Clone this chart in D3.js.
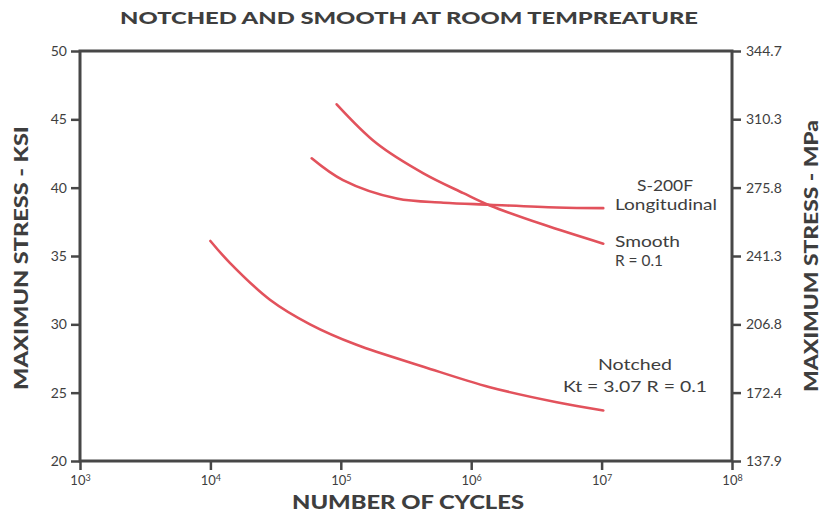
<!DOCTYPE html>
<html>
<head>
<meta charset="utf-8">
<script src="https://cdn.jsdelivr.net/npm/d3@7"></script>
<style>
  html, body { margin: 0; padding: 0; background: #fff; }
  svg { display: block; }
  text { font-family: Lato, "Open Sans", sans-serif; }
</style>
</head>
<body>
<svg id="chart" width="822" height="516"></svg>
<script>
// ---- data (cycles, max stress in ksi) ----
const notchedCycles = [10000, 14100, 28600, 58100, 132000, 430000, 1390000, 4530000, 10300000];
const notchedStress = [36.1, 34.5, 31.8, 30.0, 28.5, 26.9, 25.4, 24.3, 23.7];

const smoothCycles = [93000, 188000, 430000, 871000, 1390000, 3570000, 10300000];
const smoothStress = [46.1, 43.25, 41.05, 39.6, 38.7, 37.3, 35.9];

const longCycles = [59800, 104000, 269000, 611000, 1390000, 4530000, 10300000];
const longStress = [42.15, 40.55, 39.2, 38.9, 38.75, 38.55, 38.5];

const ksiTicks = [20, 25, 30, 35, 40, 45, 50];
const mpaTicks = [137.9, 172.4, 206.8, 241.3, 275.8, 310.3, 344.7];
const cycleTicks = [1e3, 1e4, 1e5, 1e6, 1e7, 1e8];
const cycleExp = ["3", "4", "5", "6", "7", "8"];

const title = "NOTCHED AND SMOOTH AT ROOM TEMPREATURE";
const xLabel = "NUMBER OF CYCLES";
const yLabelLeft = "MAXIMUN STRESS - KSI";
const yLabelRight = "MAXIMUM STRESS - MPa";

// ---- layout ----
const svg = d3.select("#chart");
const margin = { left: 80, right: 90, top: 51, bottom: 55 };
const W = 822, H = 516;
const x0 = margin.left, x1 = W - margin.right, y0 = margin.top, y1 = H - margin.bottom;

const x = d3.scaleLog().domain([1e3, 1e8]).range([x0, x1]);
const y = d3.scaleLinear().domain([20, 50]).range([y1, y0]);
const yR = d3.scaleLinear().domain([137.9, 344.7]).range([y1, y0]);

const axisColor = "#474747";
const textColor = "#3e3e3e";
const lineColor = "#e2525c";

// frame
svg.append("rect")
  .attr("x", x0).attr("y", y0)
  .attr("width", x1 - x0).attr("height", y1 - y0)
  .attr("fill", "none").attr("stroke", axisColor).attr("stroke-width", 3);

function styleAxis(g) {
  g.select(".domain").remove();
  g.selectAll(".tick line").attr("stroke", axisColor).attr("stroke-width", 2.5);
  g.selectAll(".tick text").attr("fill", textColor)
    .style("font-family", "Lato, sans-serif").style("font-size", "14px");
}

// left axis
svg.append("g").attr("transform", `translate(${x0},0)`)
  .call(d3.axisLeft(y).tickValues(ksiTicks).tickSize(9).tickPadding(4).tickFormat(d3.format("d")))
  .call(styleAxis);

// right axis
svg.append("g").attr("transform", `translate(${x1},0)`)
  .call(d3.axisRight(yR).tickValues(mpaTicks).tickSize(9).tickPadding(5).tickFormat(d3.format(".1f")))
  .call(styleAxis);

// bottom axis
const gx = svg.append("g").attr("transform", `translate(0,${y1})`)
  .call(d3.axisBottom(x).tickValues(cycleTicks).tickSize(9).tickPadding(4).tickFormat(() => ""))
  .call(styleAxis);
gx.selectAll(".tick").each(function(d, i) {
  const t = d3.select(this).select("text");
  t.text(null).attr("dy", "0.85em").style("font-size", "13px");
  t.append("tspan").text("10");
  t.append("tspan").text(cycleExp[i]).attr("dy", "-0.45em").style("font-size", "9px");
});

// curves
const line = d3.line()
  .x(d => x(d[0]))
  .y(d => y(d[1]))
  .curve(d3.curveCatmullRom.alpha(0.5));

const series = [
  d3.zip(notchedCycles, notchedStress),
  d3.zip(smoothCycles, smoothStress),
  d3.zip(longCycles, longStress)
];
svg.append("g").selectAll("path").data(series).join("path")
  .attr("d", line)
  .attr("fill", "none")
  .attr("stroke", lineColor)
  .attr("stroke-width", 2.6)
  .attr("stroke-linecap", "round");

// annotations
const ann = svg.append("g").attr("fill", textColor)
  .style("font-family", "Lato, sans-serif").style("font-size", "15px");
function note(txt, xx, yy, w, anchor) {
  ann.append("text").attr("x", xx).attr("y", yy)
    .attr("text-anchor", anchor || "start")
    .attr("textLength", w).attr("lengthAdjust", "spacingAndGlyphs")
    .text(txt);
}
note("S-200F", 665, 191, 56, "middle");
note("Longitudinal", 666, 210, 102, "middle");
note("Smooth", 615, 247, 65);
note("R = 0.1", 615, 266, 48);
note("Notched", 635, 370, 74, "middle");
note("Kt = 3.07 R = 0.1", 635, 392, 144, "middle");

// titles
svg.append("text").attr("x", 409).attr("y", 24).attr("text-anchor", "middle")
  .attr("fill", textColor).style("font-weight", 900).style("font-size", "17px")
  .attr("textLength", 578).attr("lengthAdjust", "spacingAndGlyphs")
  .text(title);

svg.append("text").attr("x", 408).attr("y", 509).attr("text-anchor", "middle")
  .attr("fill", textColor).style("font-weight", 900).style("font-size", "18px")
  .attr("textLength", 232).attr("lengthAdjust", "spacingAndGlyphs")
  .text(xLabel);

svg.append("text")
  .attr("transform", `translate(28,${(y0 + y1) / 2 + 2}) rotate(-90)`)
  .attr("text-anchor", "middle")
  .attr("fill", textColor).style("font-weight", 900).style("font-size", "18px")
  .attr("textLength", 264).attr("lengthAdjust", "spacingAndGlyphs")
  .text(yLabelLeft);

svg.append("text")
  .attr("transform", `translate(818,${(y0 + y1) / 2}) rotate(-90)`)
  .attr("text-anchor", "middle")
  .attr("fill", textColor).style("font-weight", 900).style("font-size", "18px")
  .attr("textLength", 272).attr("lengthAdjust", "spacingAndGlyphs")
  .text(yLabelRight);
</script>
</body>
</html>
